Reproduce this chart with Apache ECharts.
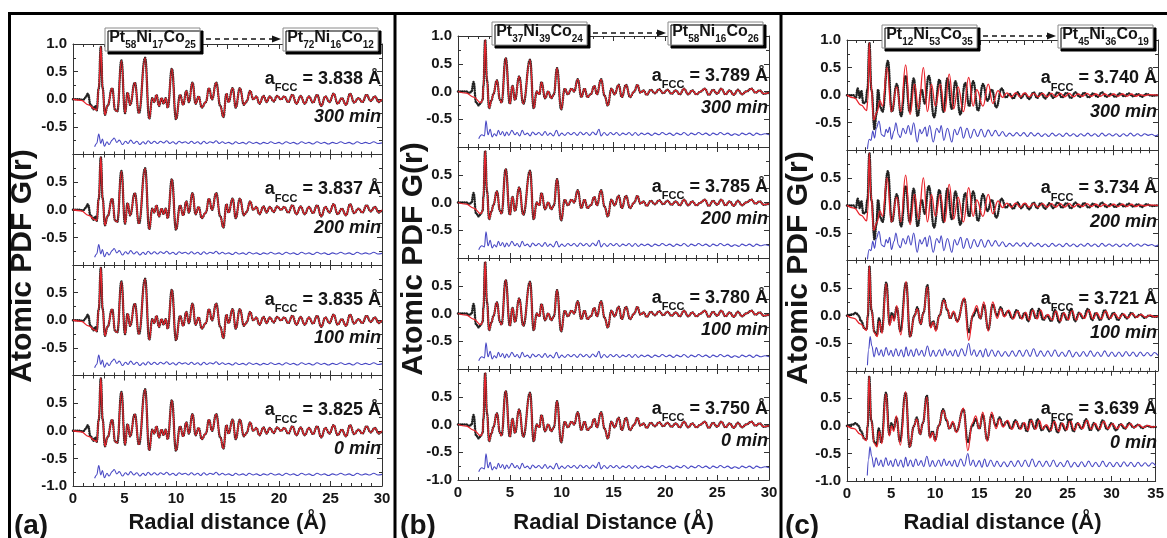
<!DOCTYPE html>
<html>
<head>
<meta charset="utf-8">
<script src="https://cdn.jsdelivr.net/npm/echarts@6/dist/echarts.min.js"></script>
<style>
html,body{margin:0;padding:0;background:#fff}
#charts{width:1167px;height:538px}
</style>
</head>
<body>
<div id="charts"></div>
<script>
// ---- data: [r (Å), G(r)] ----
var timeLabels = ['300 min', '200 min', '100 min', '0 min'];
var aFccA = ['3.838', '3.837', '3.835', '3.825'];
var aFccB = ['3.789', '3.785', '3.780', '3.750'];
var aFccC = ['3.740', '3.734', '3.721', '3.639'];
var compStart = ['Pt58Ni17Co25', 'Pt37Ni39Co24', 'Pt12Ni53Co35'];
var compEnd = ['Pt72Ni16Co12', 'Pt58Ni16Co26', 'Pt45Ni36Co19'];
var xMaxes = [30, 30, 35];
var panelTags = ['(a)', '(b)', '(c)'];
var xTitles = ['Radial distance (\u00c5)', 'Radial Distance (\u00c5)', 'Radial distance (\u00c5)'];

// panel (a)
var obsHeadA = [[0,0],[0.5,0.0],[1.0,-0.01],[1.2,0.03],[1.45,0.1],[1.7,-0.1],[2.0,-0.18],[2.15,-0.12]];
var fitHeadA = [[0,0],[0.8,-0.02],[1.5,-0.1],[2.15,-0.18]];
var peaksA = [[2.3,-0.2],[2.5,0.2],[2.7,0.95],[2.88,0.2],[3.1,-0.28],[3.35,-0.12],[3.8,0.2],[4.1,-0.2],[4.3,-0.22],[4.7,0.7],
  [5.05,-0.25],[5.3,0.12],[5.55,-0.1],[6.0,0.3],[6.4,-0.25],[7.0,0.75],[7.4,-0.35],[7.7,0.02],[7.9,-0.05],[8.1,0.08],
  [8.35,-0.12],[8.6,0.02],[8.8,-0.08],[9.0,0.02],[9.2,-0.15],[9.6,0.55],[10.0,-0.36],[10.4,0.08],[10.7,-0.1],[11.0,0.15],
  [11.25,-0.05],[11.6,0.3],[11.9,-0.08],[12.2,0.05],[12.5,-0.15],[12.9,-0.05],[13.2,0.2],[13.5,0.0],[13.9,0.3],[14.3,-0.12],
  [14.6,-0.32],[14.9,0.1],[15.1,-0.05],[15.5,0.2],[15.8,-0.15],[16.2,0.2],[16.6,-0.1],[16.85,-0.04],[17.2,0.15],[17.5,0.0],
  [17.8,0.05],[18.1,-0.08],[18.5,0.06],[18.8,-0.05],[19.1,0.05],[19.5,-0.04],[19.8,0.06],[20.2,0.0],[20.5,0.05],[20.9,-0.05],
  [21.3,0.08],[21.7,-0.08],[22.1,0.06],[22.5,-0.08],[22.9,0.05],[23.3,-0.06],[23.7,0.08],[24.1,-0.12],[24.5,0.05],[24.9,-0.05],
  [25.3,0.1],[25.7,-0.08],[26.1,0.02],[26.5,-0.1],[26.9,0.1],[27.3,-0.06],[27.7,0.02],[28.1,-0.05],[28.5,0.08],[28.9,-0.03],
  [29.3,0.05],[29.7,-0.05],[30,0.0]];
var diffA = [[2.1,-0.86],[2.3,-0.8],[2.5,-0.63],[2.7,-0.8],[2.85,-0.72],[3.05,-0.85],[3.3,-0.77],[3.5,-0.82],[3.8,-0.74],[4.0,-0.7],
  [4.25,-0.78],[4.5,-0.74],[4.8,-0.82],[5.1,-0.76],[5.35,-0.8],[5.6,-0.74],[5.9,-0.8],[6.2,-0.76],[6.5,-0.82],[6.8,-0.77],
  [7.05,-0.81],[7.3,-0.75],[7.6,-0.8],[7.9,-0.76],[8.2,-0.8],[8.5,-0.76],[8.8,-0.79],[9.1,-0.75],[9.4,-0.8],[9.7,-0.77],
  [10.0,-0.81],[10.3,-0.76],[10.6,-0.79],[10.9,-0.77],[11.2,-0.8],[11.5,-0.76],[11.8,-0.8],[12.1,-0.77],[12.4,-0.81],[12.7,-0.76],
  [13.0,-0.8],[13.3,-0.77],[13.6,-0.79],[13.9,-0.75],[14.2,-0.8],[14.5,-0.77],[14.8,-0.8],[15.1,-0.78],[15.5,-0.81],[15.8,-0.77],
  [16.1,-0.8],[16.5,-0.78],[16.8,-0.81],[17.1,-0.77],[17.5,-0.8],[17.8,-0.78],[18.2,-0.81],[18.5,-0.78],[18.9,-0.8],[19.2,-0.77],
  [19.6,-0.8],[20.0,-0.78],[20.3,-0.81],[20.7,-0.77],[21.1,-0.8],[21.4,-0.78],[21.8,-0.81],[22.2,-0.77],[22.6,-0.8],[22.9,-0.78],
  [23.3,-0.81],[23.7,-0.77],[24.1,-0.8],[24.4,-0.78],[24.8,-0.81],[25.2,-0.78],[25.6,-0.8],[26.0,-0.77],[26.4,-0.8],[26.8,-0.78],
  [27.2,-0.81],[27.6,-0.77],[28.0,-0.8],[28.4,-0.78],[28.8,-0.8],[29.2,-0.77],[29.6,-0.8],[30.0,-0.79]];

// panel (b)
var obsHeadB = [[0,0],[0.8,0.0],[1.1,-0.03],[1.3,0.0],[1.5,0.17],[1.75,-0.2],[2.0,-0.25],[2.2,-0.2]];
var fitHeadB = [[0,0],[0.8,-0.03],[1.5,-0.1],[2.2,-0.2]];
var peaksB = [[2.38,-0.15],[2.45,0.1],[2.62,0.93],[2.8,0.2],[3.0,-0.3],[3.25,-0.15],[3.4,-0.05],[3.75,0.2],[4.05,-0.15],[4.2,-0.2],
  [4.6,0.6],[5.0,-0.22],[5.25,0.1],[5.5,-0.15],[5.9,0.27],[6.3,-0.22],[6.95,0.57],[7.3,-0.3],[7.6,0.0],[7.85,-0.05],
  [8.05,0.17],[8.4,-0.12],[8.7,0.0],[9.0,-0.12],[9.25,-0.05],[9.55,0.42],[9.95,-0.32],[10.3,0.05],[10.6,-0.05],[10.95,0.05],
  [11.2,0.0],[11.55,0.22],[11.9,-0.1],[12.2,0.05],[12.5,-0.1],[12.8,-0.05],[13.15,0.1],[13.4,-0.05],[13.8,0.22],[14.15,-0.08],
  [14.45,-0.25],[14.8,0.05],[15.1,-0.05],[15.5,0.12],[15.8,-0.1],[16.2,0.12],[16.6,-0.1],[17.0,0.0],[17.3,0.12],[17.6,-0.02],
  [17.9,0.02],[18.2,-0.06],[18.6,0.03],[19.0,-0.03],[19.4,0.04],[19.8,-0.03],[20.2,0.03],[20.6,-0.04],[21.0,0.02],[21.4,-0.05],
  [21.8,0.05],[22.2,-0.05],[22.6,0.02],[23.0,-0.05],[23.4,0.0],[23.8,0.05],[24.2,-0.06],[24.6,0.03],[25.0,-0.04],[25.4,0.05],
  [25.8,-0.05],[26.2,0.02],[26.6,-0.06],[27.0,0.03],[27.4,-0.05],[27.8,0.0],[28.3,0.05],[28.7,-0.02],[29.1,0.02],[29.5,-0.04],[30,-0.02]];
var diffB = [[2.0,-0.85],[2.3,-0.78],[2.55,-0.8],[2.7,-0.53],[2.9,-0.78],[3.1,-0.68],[3.3,-0.82],[3.5,-0.76],[3.7,-0.8],[3.9,-0.7],
  [4.1,-0.78],[4.3,-0.72],[4.5,-0.8],[4.7,-0.73],[4.9,-0.79],[5.2,-0.7],[5.5,-0.78],[5.7,-0.74],[5.95,-0.8],[6.2,-0.7],
  [6.45,-0.78],[6.7,-0.75],[6.95,-0.8],[7.2,-0.73],[7.5,-0.78],[7.8,-0.74],[8.1,-0.79],[8.4,-0.72],[8.65,-0.79],[8.9,-0.75],
  [9.2,-0.8],[9.5,-0.7],[9.75,-0.8],[10.0,-0.75],[10.3,-0.79],[10.6,-0.74],[10.9,-0.78],[11.2,-0.74],[11.5,-0.79],[11.8,-0.73],
  [12.1,-0.78],[12.4,-0.74],[12.7,-0.79],[13.0,-0.73],[13.3,-0.78],[13.6,-0.68],[13.8,-0.8],[14.1,-0.74],[14.4,-0.79],[14.7,-0.74],
  [15.0,-0.78],[15.3,-0.74],[15.6,-0.79],[15.9,-0.75],[16.2,-0.78],[16.5,-0.74],[16.8,-0.79],[17.1,-0.74],[17.4,-0.79],[17.7,-0.75],
  [18.0,-0.78],[18.3,-0.75],[18.7,-0.79],[19.0,-0.75],[19.4,-0.78],[19.7,-0.74],[20.1,-0.78],[20.4,-0.75],[20.8,-0.79],[21.1,-0.75],
  [21.5,-0.78],[21.8,-0.74],[22.2,-0.79],[22.5,-0.75],[22.9,-0.78],[23.2,-0.74],[23.6,-0.78],[23.9,-0.75],[24.3,-0.79],[24.6,-0.75],
  [25.0,-0.78],[25.3,-0.74],[25.7,-0.78],[26.0,-0.75],[26.4,-0.79],[26.7,-0.76],[27.1,-0.79],[27.4,-0.75],[27.8,-0.78],[28.1,-0.75],
  [28.5,-0.79],[28.8,-0.75],[29.2,-0.78],[29.6,-0.76],[30,-0.78]];

// panel (c), late scans (300 / 200 min)
var obsCTop = [[0,0],[0.7,0.0],[1.0,-0.05],[1.2,0.12],[1.45,-0.05],[1.6,0.08],[1.85,-0.15],[2.1,-0.12],[2.3,0.1],[2.52,0.95],
  [2.75,0.1],[3.1,-0.62],[3.3,-0.35],[3.5,0.1],[3.75,-0.22],[4.0,-0.3],[4.6,0.62],[5.05,-0.3],[5.6,0.2],[6.1,-0.38],
  [6.6,0.35],[7.05,-0.3],[7.5,0.3],[7.95,-0.38],[8.4,0.1],[8.75,-0.15],[9.2,0.35],[9.8,-0.4],[10.4,0.28],[10.85,-0.3],
  [11.3,0.3],[11.8,-0.25],[12.2,0.25],[12.75,-0.35],[13.3,0.22],[13.75,-0.2],[14.2,0.25],[14.75,-0.28],[15.3,0.2],[15.8,-0.1],
  [16.3,0.1],[16.8,-0.22],[17.4,0.12],[17.9,-0.04],[18.3,0.02],[18.7,-0.06],[19.2,0.05],[19.6,-0.05],[20.0,0.03],[20.5,-0.07],
  [21.0,0.05],[21.4,-0.05],[21.8,0.04],[22.3,-0.06],[22.8,0.04],[23.2,-0.05],[23.7,0.05],[24.2,-0.04],[24.7,0.04],[25.2,-0.05],
  [25.7,0.05],[26.2,-0.03],[26.7,0.04],[27.2,-0.04],[27.7,0.03],[28.2,-0.03],[28.7,0.05],[29.2,-0.03],[29.7,0.02],[30.2,-0.03],
  [30.7,0.03],[31.2,-0.02],[31.7,0.03],[32.2,-0.02],[32.7,0.02],[33.2,-0.03],[33.7,0.02],[34.3,-0.01],[35,0.0]];
var fitCTop = [[0,0],[0.8,-0.05],[1.6,-0.18],[2.2,-0.28],[2.35,-0.1],[2.5,0.95],[2.7,0.2],[3.0,-0.45],[3.4,-0.3],[3.7,-0.1],
  [4.0,-0.2],[4.5,0.5],[5.0,-0.3],[5.6,0.15],[6.05,-0.3],[6.6,0.55],[7.1,-0.35],[7.6,0.2],[8.05,-0.25],[8.6,0.5],
  [9.05,-0.3],[9.5,0.2],[9.95,-0.2],[10.5,0.2],[11.0,-0.3],[11.5,0.38],[12.0,-0.25],[12.5,0.15],[13.1,-0.3],[13.7,0.32],
  [14.2,-0.2],[14.6,0.1],[15.3,-0.2],[15.9,0.2],[16.4,-0.15],[17.0,0.08],[17.5,-0.04],[18.0,0.04],[18.5,-0.03],[19.0,0.04],
  [19.5,-0.03],[20.0,0.04],[20.5,-0.03],[21.0,0.03],[21.5,-0.03],[22.0,0.03],[22.5,-0.03],[23.0,0.03],[23.5,-0.03],[24.0,0.03],
  [24.5,-0.03],[25.0,0.03],[25.5,-0.03],[26.0,0.02],[26.5,-0.02],[27.0,0.03],[27.5,-0.02],[28.0,0.02],[28.5,-0.02],[29.0,0.02],
  [29.5,-0.02],[30.0,0.02],[30.5,-0.02],[31.0,0.02],[31.5,-0.02],[32.0,0.02],[32.5,-0.02],[33.0,0.01],[33.5,-0.01],[34.0,0.01],[35,0.0]];
var diffCTop = [[2.3,-0.98],[2.5,-0.8],[2.7,-0.82],[2.9,-0.65],[3.1,-0.78],[3.3,-0.6],[3.6,-0.47],[3.9,-0.72],[4.2,-0.75],[4.4,-0.62],
  [4.6,-0.68],[4.8,-0.58],[5.0,-0.8],[5.3,-0.65],[5.5,-0.5],[5.8,-0.72],[6.0,-0.77],[6.3,-0.6],[6.6,-0.7],[6.9,-0.55],
  [7.2,-0.72],[7.5,-0.5],[7.9,-0.85],[8.2,-0.62],[8.4,-0.7],[8.8,-0.58],[9.0,-0.75],[9.3,-0.55],[9.7,-0.85],[10.1,-0.6],
  [10.4,-0.68],[10.6,-0.55],[10.9,-0.82],[11.3,-0.6],[11.8,-0.85],[12.1,-0.62],[12.4,-0.72],[12.8,-0.58],[13.1,-0.78],[13.5,-0.6],
  [13.9,-0.78],[14.3,-0.62],[14.7,-0.75],[15.1,-0.62],[15.5,-0.76],[15.9,-0.63],[16.3,-0.74],[16.7,-0.64],[17.1,-0.74],[17.5,-0.66],
  [17.9,-0.75],[18.3,-0.69],[18.7,-0.74],[19.1,-0.68],[19.5,-0.74],[19.9,-0.68],[20.3,-0.75],[20.7,-0.68],[21.1,-0.74],[21.5,-0.69],
  [21.9,-0.75],[22.3,-0.7],[22.7,-0.75],[23.1,-0.69],[23.5,-0.74],[23.9,-0.7],[24.3,-0.75],[24.7,-0.69],[25.1,-0.74],[25.5,-0.7],
  [25.9,-0.75],[26.3,-0.7],[26.7,-0.74],[27.1,-0.69],[27.5,-0.74],[27.9,-0.7],[28.3,-0.75],[28.7,-0.69],[29.1,-0.74],[29.5,-0.7],
  [29.9,-0.74],[30.3,-0.7],[30.7,-0.75],[31.1,-0.7],[31.5,-0.74],[31.9,-0.69],[32.3,-0.74],[32.7,-0.7],[33.1,-0.74],[33.5,-0.7],
  [33.9,-0.73],[34.3,-0.71],[34.7,-0.74],[35,-0.72]];

// panel (c), early scans (100 / 0 min)
var obsCBot = [[0,0],[0.6,0.02],[1.0,0.05],[1.3,0.0],[1.6,-0.1],[2.0,-0.24],[2.2,-0.25],[2.35,0.0],[2.52,0.9],[2.75,0.1],
  [3.1,-0.3],[3.35,-0.35],[3.6,-0.05],[3.9,-0.3],[4.42,0.6],[4.8,-0.15],[5.05,0.05],[5.3,-0.05],[5.6,0.15],[6.0,-0.28],
  [6.65,0.6],[7.1,-0.38],[7.6,0.0],[7.9,0.15],[8.3,-0.15],[8.6,0.05],[9.05,0.55],[9.4,-0.2],[9.7,-0.1],[10.0,-0.25],
  [10.4,0.0],[10.9,0.3],[11.3,0.1],[11.6,-0.05],[12.0,0.05],[12.4,-0.1],[13.2,0.3],[13.7,-0.3],[14.2,0.0],[14.6,0.12],
  [15.0,-0.05],[15.4,0.2],[15.9,-0.25],[16.4,0.2],[16.9,0.0],[17.3,0.15],[17.7,0.0],[18.1,0.08],[18.6,-0.05],[19.1,0.1],
  [19.6,-0.05],[20.0,0.05],[20.4,-0.1],[20.8,0.12],[21.3,-0.05],[21.6,0.12],[22.1,-0.08],[22.5,0.0],[23.0,-0.1],[23.4,0.1],
  [23.9,-0.12],[24.3,0.05],[24.8,-0.08],[25.2,0.12],[25.7,-0.1],[26.1,0.05],[26.6,-0.05],[27.1,0.12],[27.6,-0.08],[28.0,0.05],
  [28.5,-0.08],[29.0,0.1],[29.5,-0.06],[30.0,0.05],[30.5,-0.08],[31.0,0.03],[31.5,-0.05],[32.0,0.05],[32.5,-0.03],[33.0,0.02],
  [33.5,-0.04],[34.0,0.0],[34.5,-0.02],[35,-0.02]];
var fitCBot = [[0,0],[0.8,-0.05],[1.5,-0.15],[2.2,-0.27],[2.35,0.0],[2.5,0.9],[2.75,0.1],[3.1,-0.32],[3.4,-0.38],[3.65,-0.1],
  [3.95,-0.32],[4.4,0.58],[4.8,-0.18],[5.05,0.0],[5.3,-0.1],[5.6,0.18],[6.05,-0.35],[6.65,0.62],[7.1,-0.38],[7.6,0.0],
  [7.9,0.12],[8.3,-0.15],[8.6,0.05],[9.05,0.52],[9.4,-0.22],[9.7,-0.12],[10.0,-0.28],[10.4,0.0],[10.9,0.28],[11.3,0.12],
  [11.6,-0.05],[12.0,0.08],[12.4,-0.12],[13.2,0.32],[13.7,-0.45],[14.2,0.05],[14.6,0.18],[15.0,-0.05],[15.4,0.25],[15.9,-0.28],
  [16.4,0.25],[16.9,-0.05],[17.3,0.12],[17.7,-0.02],[18.2,0.1],[18.7,-0.06],[19.2,0.08],[19.7,-0.06],[20.1,0.06],[20.5,-0.08],
  [20.9,0.1],[21.4,-0.06],[21.8,0.1],[22.2,-0.06],[22.6,0.02],[23.1,-0.08],[23.5,0.08],[24.0,-0.1],[24.4,0.05],[24.9,-0.07],
  [25.3,0.1],[25.8,-0.08],[26.2,0.05],[26.7,-0.05],[27.2,0.1],[27.7,-0.06],[28.1,0.05],[28.6,-0.06],[29.1,0.08],[29.6,-0.05],
  [30.1,0.04],[30.6,-0.05],[31.1,0.03],[31.6,-0.04],[32.1,0.04],[32.6,-0.03],[33.1,0.02],[33.6,-0.03],[34.1,0.01],[34.6,-0.02],[35,-0.01]];
var diffCBot = [[2.3,-0.9],[2.45,-0.6],[2.6,-0.38],[2.8,-0.55],[3.05,-0.75],[3.3,-0.58],[3.6,-0.72],[3.85,-0.62],[4.1,-0.74],[4.4,-0.58],
  [4.7,-0.72],[4.95,-0.63],[5.2,-0.74],[5.5,-0.6],[5.8,-0.73],[6.1,-0.62],[6.4,-0.75],[6.65,-0.57],[6.9,-0.73],[7.2,-0.62],
  [7.5,-0.74],[7.8,-0.6],[8.1,-0.72],[8.4,-0.63],[8.7,-0.74],[9.05,-0.55],[9.4,-0.74],[9.7,-0.63],[10.0,-0.74],[10.4,-0.62],
  [10.7,-0.73],[11.0,-0.6],[11.3,-0.72],[11.6,-0.64],[11.9,-0.73],[12.2,-0.62],[12.5,-0.74],[12.9,-0.6],[13.3,-0.73],[13.7,-0.5],
  [14.0,-0.72],[14.3,-0.62],[14.6,-0.74],[15.0,-0.63],[15.3,-0.75],[15.6,-0.6],[15.9,-0.74],[16.3,-0.62],[16.7,-0.74],[17.0,-0.64],
  [17.4,-0.74],[17.8,-0.65],[18.2,-0.74],[18.6,-0.64],[19.0,-0.74],[19.4,-0.63],[19.8,-0.74],[20.2,-0.62],[20.6,-0.74],[21.0,-0.6],
  [21.4,-0.74],[21.8,-0.64],[22.2,-0.74],[22.6,-0.64],[23.0,-0.74],[23.4,-0.62],[23.8,-0.74],[24.2,-0.66],[24.6,-0.74],[25.0,-0.63],
  [25.4,-0.75],[25.8,-0.66],[26.2,-0.74],[26.6,-0.65],[27.0,-0.74],[27.4,-0.64],[27.8,-0.74],[28.2,-0.66],[28.6,-0.74],[29.0,-0.64],
  [29.4,-0.74],[29.8,-0.66],[30.2,-0.74],[30.6,-0.66],[31.0,-0.74],[31.4,-0.65],[31.8,-0.73],[32.2,-0.66],[32.6,-0.74],[33.0,-0.66],
  [33.4,-0.73],[33.8,-0.67],[34.2,-0.73],[34.6,-0.67],[35,-0.72]];

// which curves go in which sub-plot (top to bottom)
var obsA = obsHeadA.concat(peaksA), fitA = fitHeadA.concat(peaksA);
var obsB = obsHeadB.concat(peaksB), fitB = fitHeadB.concat(peaksB);
var panelCurves = [
  [[obsA, fitA, diffA], [obsA, fitA, diffA], [obsA, fitA, diffA], [obsA, fitA, diffA]],
  [[obsB, fitB, diffB], [obsB, fitB, diffB], [obsB, fitB, diffB], [obsB, fitB, diffB]],
  [[obsCTop, fitCTop, diffCTop], [obsCTop, fitCTop, diffCTop], [obsCBot, fitCBot, diffCBot], [obsCBot, fitCBot, diffCBot]]
];
var panelAfcc = [aFccA, aFccB, aFccC];

// ---- layout ----
var FONT = '"Liberation Sans", Arial, sans-serif';
var INK = '#151515';
var layout = [
  {left: 73, width: 309, top: 44, h: 110.5, aY: 0.37, tY: -0.33, box1: 105, box2: 283, boxY: 28, frame: 9.5, yTitleX: 23, yTitleY: 266, tagX: 31},
  {left: 458, width: 311, top: 36, h: 111, aY: 0.28, tY: -0.29, box1: 492, box2: 668, boxY: 22, frame: 395, yTitleX: 414, yTitleY: 259, tagX: 418},
  {left: 847, width: 311, top: 40, h: 110.25, aY: 0.31, tY: -0.31, box1: 882, box2: 1058, boxY: 25, frame: 781, yTitleX: 799, yTitleY: 268, tagX: 802}
];

var grids = [], xAxes = [], yAxes = [], series = [], graphics = [];

function xAxisOf(gi, pos, withLabels, xMax) {
  return {
    type: 'value', gridIndex: gi, position: pos, min: 0, max: xMax, interval: 5,
    axisLine: {show: true, onZero: false, lineStyle: {color: '#333', width: 1}},
    axisTick: {show: true, inside: true, length: 5, lineStyle: {color: '#333'}},
    minorTick: {show: true, splitNumber: 5, length: 3, lineStyle: {color: '#333'}},
    splitLine: {show: false},
    axisLabel: {show: withLabels, margin: 5, color: INK, fontFamily: FONT, fontWeight: 'bold', fontSize: 15}
  };
}
function yAxisOf(gi, pos, sub) {
  return {
    type: 'value', gridIndex: gi, position: pos, min: -1, max: 1, interval: 0.5,
    axisLine: {show: true, onZero: false, lineStyle: {color: '#333', width: 1}},
    axisTick: {show: true, inside: true, length: 5, lineStyle: {color: '#333'}},
    minorTick: {show: true, splitNumber: 2, length: 3, lineStyle: {color: '#333'}},
    splitLine: {show: false},
    axisLabel: {
      show: pos === 'left', margin: 6, color: INK, fontFamily: FONT, fontWeight: 'bold', fontSize: 15,
      formatter: function (v) {
        if (v > 0.99 && sub !== 0) return '';
        if (v < -0.99 && sub !== 3) return '';
        return v.toFixed(1);
      }
    }
  };
}
function compRich(s) {
  return s.replace(/([A-Z][a-z]?)(\d+)/g, '{m|$1}{s|$2}');
}
function compRichStyle() {
  return {
    m: {fontFamily: FONT, fontWeight: 'bold', fontSize: 16, lineHeight: 24, fill: INK, verticalAlign: 'middle'},
    s: {fontFamily: FONT, fontWeight: 'bold', fontSize: 10, lineHeight: 10, fill: INK, verticalAlign: 'bottom'}
  };
}

for (var p = 0; p < 3; p++) {
  var L = layout[p];
  for (var s = 0; s < 4; s++) {
    var gi = p * 4 + s;
    var gTop = L.top + s * L.h;
    grids.push({left: L.left, top: gTop, width: L.width, height: L.h});
    xAxes.push(xAxisOf(gi, 'bottom', s === 3, xMaxes[p]));
    xAxes.push(xAxisOf(gi, 'top', false, xMaxes[p]));
    yAxes.push(yAxisOf(gi, 'left', s));
    yAxes.push(yAxisOf(gi, 'right', s));
    var c = panelCurves[p][s];
    series.push({
      type: 'line', xAxisIndex: 2 * gi, yAxisIndex: 2 * gi, data: c[0], smooth: 0.45, smoothMonotone: 'x',
      showSymbol: false, silent: true, z: 2,
      lineStyle: {color: '#0a0a0a', width: 2.5, type: [0.1, 2.1], cap: 'round', opacity: 0.9}
    });
    series.push({
      type: 'line', xAxisIndex: 2 * gi, yAxisIndex: 2 * gi, data: c[1], smooth: 0.45, smoothMonotone: 'x',
      showSymbol: false, silent: true, z: 3,
      lineStyle: {color: '#e8242c', width: 1.3}
    });
    series.push({
      type: 'line', xAxisIndex: 2 * gi, yAxisIndex: 2 * gi, data: c[2], smooth: 0.4, smoothMonotone: 'x',
      showSymbol: false, silent: true, z: 3,
      lineStyle: {color: '#4848c4', width: 1.1}
    });
    var xr = L.left + L.width - 1;
    graphics.push({
      type: 'text', x: xr, y: gTop + (1 - L.aY) / 2 * L.h, z: 100,
      style: {
        text: '{m|a}{s|FCC}{m| = ' + panelAfcc[p][s] + ' \u00c5}', align: 'right', verticalAlign: 'middle',
        rich: {
          m: {fontFamily: FONT, fontWeight: 'bold', fontSize: 18, lineHeight: 30, fill: INK, verticalAlign: 'middle'},
          s: {fontFamily: FONT, fontWeight: 'bold', fontSize: 11, lineHeight: 11, fill: INK, verticalAlign: 'bottom'}
        }
      }
    });
    graphics.push({
      type: 'text', x: xr, y: gTop + (1 - L.tY) / 2 * L.h, z: 100,
      style: {
        text: timeLabels[s], align: 'right', verticalAlign: 'middle', fill: INK,
        fontFamily: FONT, fontWeight: 'bold', fontStyle: 'italic', fontSize: 18
      }
    });
  }

  // composition boxes and arrow
  var bh = 23;
  [[L.box1, compStart[p]], [L.box2, compEnd[p]]].forEach(function (b) {
    graphics.push({
      type: 'rect', z: 100, shape: {x: b[0], y: L.boxY, width: 95, height: bh},
      style: {fill: '#fff', stroke: '#8a8a8a', lineWidth: 1, shadowColor: '#000', shadowBlur: 0, shadowOffsetX: 3, shadowOffsetY: 3}
    });
    graphics.push({
      type: 'text', z: 101, x: b[0] + 47.5, y: L.boxY + 10,
      style: {text: compRich(b[1]), align: 'center', verticalAlign: 'middle', rich: compRichStyle()}
    });
  });
  var ay = L.boxY + 11, ax1 = L.box1 + 101, ax2 = L.box2 - 11;
  graphics.push({
    type: 'line', z: 100, shape: {x1: ax1, y1: ay, x2: ax2, y2: ay},
    style: {stroke: INK, lineWidth: 1.3, lineDash: [5, 4]}
  });
  graphics.push({
    type: 'polygon', z: 100, shape: {points: [[ax2, ay - 3.5], [ax2 + 9, ay], [ax2, ay + 3.5]]},
    style: {fill: INK}
  });

  // axis titles and panel tag
  graphics.push({
    type: 'text', z: 100, x: L.yTitleX, y: L.yTitleY, rotation: Math.PI / 2,
    style: {text: 'Atomic PDF G(r)', align: 'center', verticalAlign: 'middle', fill: INK,
      fontFamily: FONT, fontWeight: 'bold', fontSize: 30}
  });
  graphics.push({
    type: 'text', z: 100, x: L.left + L.width / 2, y: 523,
    style: {text: xTitles[p], align: 'center', verticalAlign: 'middle', fill: INK,
      fontFamily: FONT, fontWeight: 'bold', fontSize: 22}
  });
  graphics.push({
    type: 'text', z: 100, x: L.tagX, y: 526,
    style: {text: panelTags[p], align: 'center', verticalAlign: 'middle', fill: INK,
      fontFamily: FONT, fontWeight: 'bold', fontSize: 28}
  });
  graphics.push({
    type: 'line', z: 100, shape: {x1: L.frame, y1: 12, x2: L.frame, y2: 538},
    style: {stroke: '#000', lineWidth: 3}
  });
}
graphics.push({
  type: 'line', z: 100, shape: {x1: 8, y1: 13.5, x2: 1167, y2: 13.5},
  style: {stroke: '#000', lineWidth: 3}
});

var myChart = echarts.init(document.getElementById('charts'));
myChart.setOption({
  animation: false,
  backgroundColor: '#fff',
  grid: grids,
  xAxis: xAxes,
  yAxis: yAxes,
  series: series,
  graphic: {elements: graphics}
});
</script>
</body>
</html>
